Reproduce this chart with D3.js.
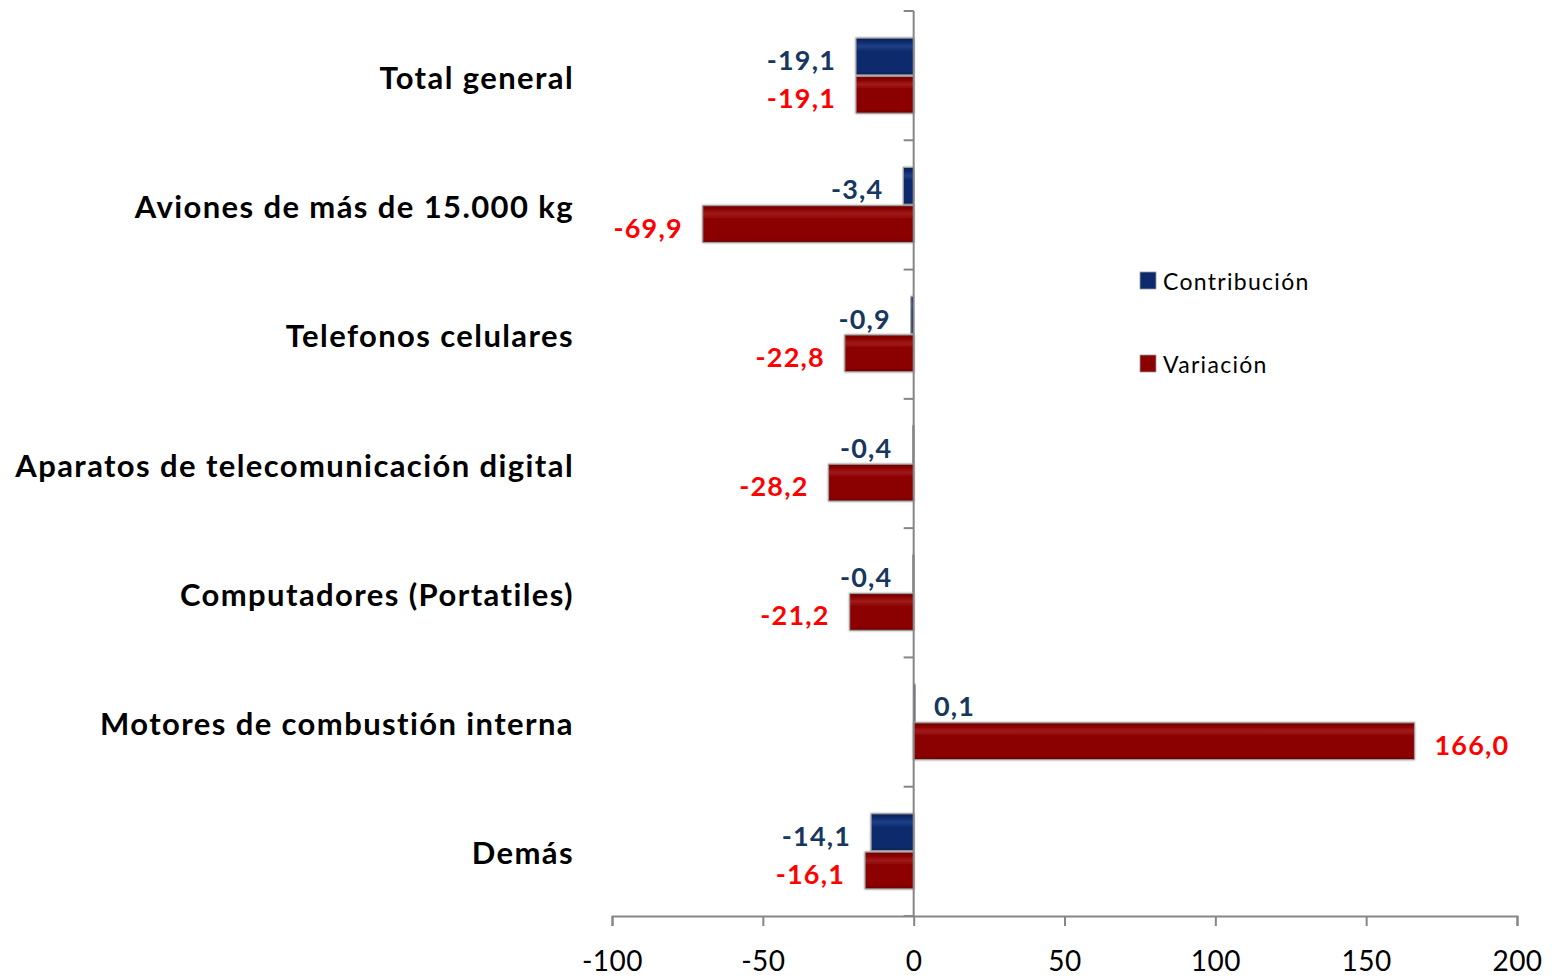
<!DOCTYPE html>
<html>
<head>
<meta charset="utf-8">
<script src="https://cdn.jsdelivr.net/npm/d3@7"></script>
<style>
  html, body { margin: 0; padding: 0; background: #ffffff; }
  svg { display: block; }
</style>
</head>
<body>
<svg id="chart" width="1552" height="976"></svg>
<script>
const categories = [
  "Total general",
  "Aviones de más de 15.000 kg",
  "Telefonos celulares",
  "Aparatos de telecomunicación digital",
  "Computadores (Portatiles)",
  "Motores de combustión interna",
  "Demás"
];
const seriesNames = ["Contribución", "Variación"];
const contribucion = [-19.1, -3.4, -0.9, -0.4, -0.4, 0.1, -14.1];
const variacion = [-19.1, -69.9, -22.8, -28.2, -21.2, 166.0, -16.1];
const xTicks = [-100, -50, 0, 50, 100, 150, 200];

const seriesColors = ["#0c2a6c", "#8b0000"];
const labelColors = ["#17375e", "#ff0000"];

(function () {
const svg = d3.select("#chart");
const pLeft = 612, pRight = 1517, pTop = 11, pBottom = 916;
const FONT = "Lato, 'Open Sans', sans-serif";

const locale = d3.formatLocale({ decimal: ",", thousands: ".", grouping: [3], currency: ["", ""], minus: "-" });
const fmt = locale.format(".1f");
const tickFmt = locale.format("d");

const x = d3.scaleLinear().domain([-100, 200]).range([pLeft, pRight]);
const y = d3.scaleBand().domain(categories).range([pTop, pBottom]).padding(0);
const inset = y.step() * 0.21;
const sub = d3.scaleBand().domain(seriesNames).range([inset, y.step() - inset]).paddingInner(0.04);

const rows = categories.map((c, i) => ({ cat: c, values: [
  { s: seriesNames[0], k: 0, v: contribucion[i] },
  { s: seriesNames[1], k: 1, v: variacion[i] }
]}));

const defs = svg.append("defs");
function makeGrad(id, base, light, dark) {
  const g = defs.append("linearGradient").attr("id", id).attr("x1", 0).attr("y1", 0).attr("x2", 0).attr("y2", 1);
  g.append("stop").attr("offset", "0%").attr("stop-color", dark);
  g.append("stop").attr("offset", "10%").attr("stop-color", base);
  g.append("stop").attr("offset", "22%").attr("stop-color", light);
  g.append("stop").attr("offset", "36%").attr("stop-color", base);
  g.append("stop").attr("offset", "90%").attr("stop-color", base);
  g.append("stop").attr("offset", "100%").attr("stop-color", dark);
}
makeGrad("grad0", "#0c2a6c", "#1f3f88", "#081f55");
makeGrad("grad1", "#8b0000", "#a01a1a", "#6e0000");

const filt = defs.append("filter").attr("id", "shadow").attr("x", "-10%").attr("y", "-20%").attr("width", "120%").attr("height", "140%");
filt.append("feDropShadow").attr("dx", 0).attr("dy", 0).attr("stdDeviation", 1.2).attr("flood-color", "#888").attr("flood-opacity", 0.9);

const groups = svg.append("g").selectAll("g").data(rows).join("g")
  .attr("transform", d => `translate(0,${y(d.cat)})`);

groups.selectAll("rect").data(d => d.values).join("rect")
  .attr("x", d => x(Math.min(0, d.v)))
  .attr("y", d => sub(d.s))
  .attr("width", d => Math.max(1.5, Math.abs(x(d.v) - x(0))))
  .attr("height", sub.bandwidth())
  .attr("fill", d => `url(#grad${d.k})`)
  .attr("stroke", "#a0a0a0")
  .attr("stroke-width", 1)
  .attr("filter", "url(#shadow)");

groups.selectAll("text").data(d => d.values).join("text")
  .attr("x", d => d.v < 0 ? x(d.v) - 20 : x(d.v) + 20)
  .attr("y", d => sub(d.s) + sub.bandwidth() / 2 + 3)
  .attr("text-anchor", d => d.v < 0 ? "end" : "start")
  .attr("dominant-baseline", "central")
  .attr("font-family", FONT)
  .attr("font-weight", "bold")
  .attr("font-size", 27)
  .attr("letter-spacing", 1.2)
  .attr("fill", d => labelColors[d.k])
  .text(d => fmt(d.v));

// y axis at zero
const yg = svg.append("g").attr("transform", `translate(${x(0)},0)`);
yg.append("line").attr("x1", 0).attr("x2", 0).attr("y1", pTop).attr("y2", pBottom).attr("stroke", "#868686").attr("stroke-width", 2);
const boundaries = categories.map(c => y(c)).concat([pBottom]);
yg.selectAll("line.bt").data(boundaries).join("line").attr("class", "bt")
  .attr("x1", -10).attr("x2", 0).attr("y1", d => d).attr("y2", d => d)
  .attr("stroke", "#868686").attr("stroke-width", 2);

// category labels
svg.append("g").selectAll("text").data(categories).join("text")
  .attr("x", 574)
  .attr("y", d => y(d) + y.step() / 2 + 1)
  .attr("text-anchor", "end")
  .attr("dominant-baseline", "central")
  .attr("font-family", FONT)
  .attr("font-weight", "bold")
  .attr("font-size", 31)
  .attr("letter-spacing", 1.4)
  .attr("fill", "#000")
  .text(d => d);

// x axis
const xAxis = d3.axisBottom(x).tickValues(xTicks).tickSize(10).tickPadding(25).tickFormat(d => tickFmt(d));
const xg = svg.append("g").attr("transform", `translate(0,${pBottom})`).call(xAxis);
xg.select(".domain").attr("stroke", "#868686").attr("stroke-width", 2);
xg.selectAll(".tick line").attr("stroke", "#868686").attr("stroke-width", 2);
xg.selectAll(".tick text").attr("font-family", FONT).attr("font-size", 28).attr("letter-spacing", 0.5).attr("fill", "#000");

// legend
const legend = svg.append("g").attr("transform", "translate(1140,272)");
const li = legend.selectAll("g").data(seriesNames).join("g").attr("transform", (d, i) => `translate(0,${i * 83})`);
li.append("rect").attr("width", 16).attr("height", 17).attr("fill", (d, i) => seriesColors[i]).attr("stroke", "#999").attr("stroke-width", 0.8);
li.append("text").attr("x", 23).attr("y", 9).attr("dominant-baseline", "central")
  .attr("font-family", FONT).attr("font-size", 23).attr("letter-spacing", 1.3).attr("fill", "#000").text(d => d);
})();
</script>
</body>
</html>
